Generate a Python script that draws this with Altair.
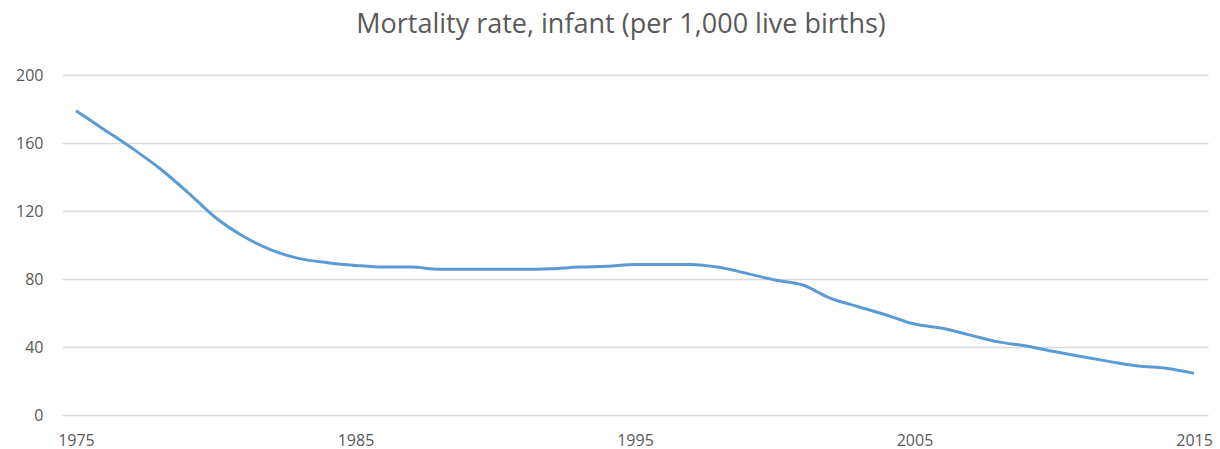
import altair as alt
import pandas as pd

# Infant mortality rate, per 1,000 live births
years = list(range(1975, 2016))
rates = [
    179, 168, 157, 145, 131, 116, 105, 97, 92, 89.6,
    88, 87, 87, 85.7, 85.7, 85.7, 85.7, 86, 87, 87.5,
    88.6, 88.6, 88.6, 86.9, 83.3, 79.4, 76.5, 68.6, 63.7, 58.8,
    53.5, 51, 47, 43, 40.6, 37.3, 34.3, 31.4, 28.8, 27.5,
    24.5,
]
x_ticks = [1975, 1985, 1995, 2005, 2015]
y_ticks = [0, 40, 80, 120, 160, 200]

df = pd.DataFrame({"year": years, "rate": rates})

FONT = "Open Sans"
TEXT = "#595959"

chart = (
    alt.Chart(df)
    .mark_line(color="#5B9BD5", strokeWidth=3, interpolate="monotone")
    .encode(
        x=alt.X(
            "year:Q",
            scale=alt.Scale(domain=[1974.5, 2015.5], nice=False, zero=False),
            axis=alt.Axis(
                values=x_ticks,
                format="d",
                title=None,
                grid=False,
                domain=False,
                ticks=False,
                labelPadding=17,
                labelFontSize=16,
                labelColor=TEXT,
                labelFont=FONT,
            ),
        ),
        y=alt.Y(
            "rate:Q",
            scale=alt.Scale(domain=[0, 200], nice=False),
            axis=alt.Axis(
                values=y_ticks,
                title=None,
                domain=False,
                ticks=False,
                gridColor="#D9D9D9",
                gridWidth=1.5,
                labelPadding=19,
                labelFontSize=16,
                labelColor=TEXT,
                labelFont=FONT,
            ),
        ),
    )
    .properties(
        width=1146,
        height=340,
        background="white",
        autosize=alt.AutoSizeParams(type="none"),
        padding={"left": 62, "top": 75, "right": 12, "bottom": 34},
        title=alt.TitleParams(
            "Mortality rate, infant (per 1,000 live births)",
            font=FONT,
            fontSize=27,
            fontWeight="normal",
            color=TEXT,
            anchor="middle",
            dx=-14,
            offset=7,
            baseline="alphabetic",
        ),
    )
    .configure_view(stroke=None)
)

chart.save("out.html", embed_options={"renderer": "svg", "actions": False})
